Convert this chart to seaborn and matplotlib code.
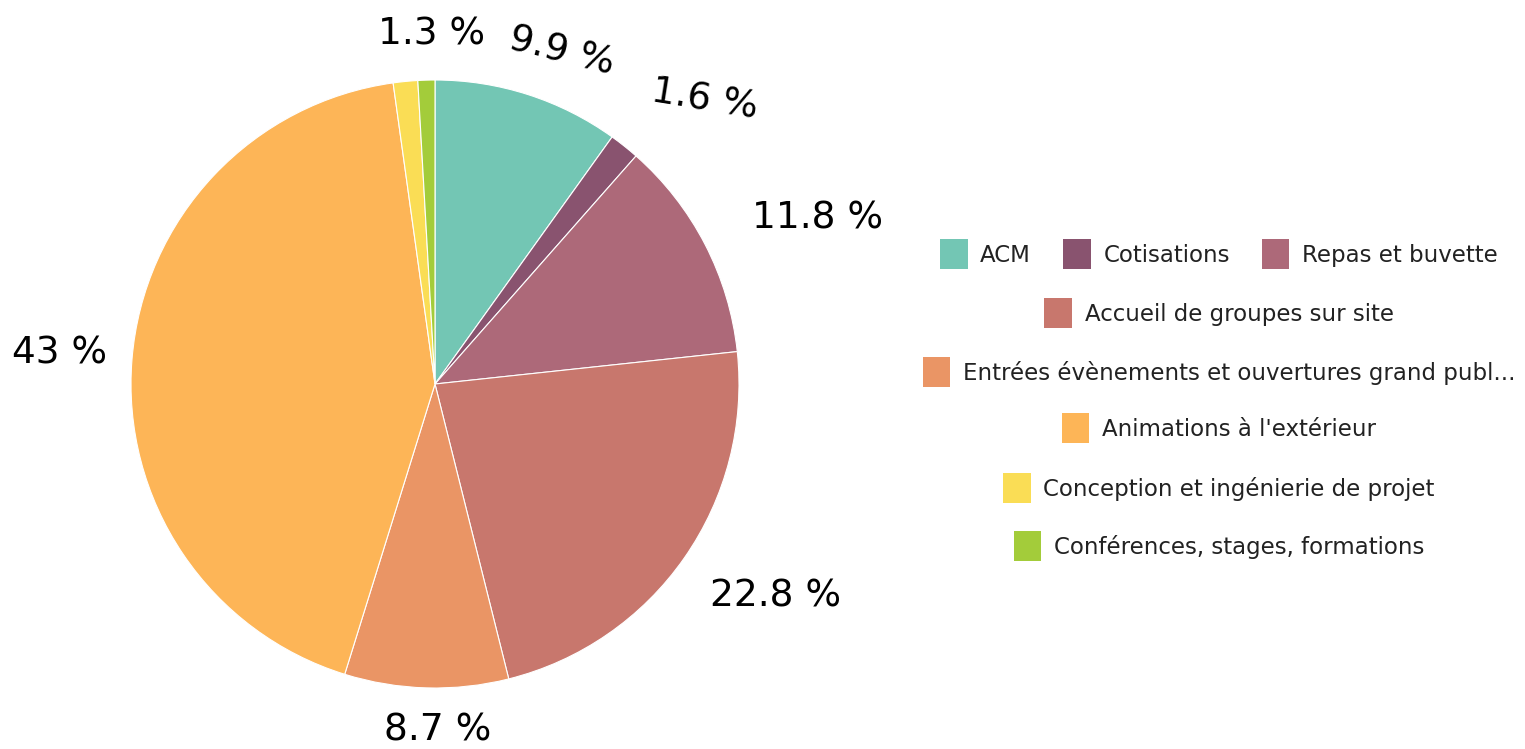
import numpy as np
import matplotlib
matplotlib.use("Agg")
import matplotlib.pyplot as plt
import matplotlib.patches as mpatches
import seaborn as sns

# === DATA ===
categories = [
    "ACM",
    "Cotisations",
    "Repas et buvette",
    "Accueil de groupes sur site",
    "Entrées évènements et ouvertures grand publ...",
    "Animations à l'extérieur",
    "Conception et ingénierie de projet",
    "Conférences, stages, formations",
]
values = [9.9, 1.6, 11.8, 22.8, 8.7, 43.0, 1.3, 0.9]
pct_labels = ["9.9 %", "1.6 %", "11.8 %", "22.8 %", "8.7 %", "43 %", "1.3 %", None]
colors = ["#73C6B4", "#89536F", "#AD6979", "#C8776D", "#EA9565",
          "#FDB557", "#FADD55", "#A3CC3A"]

# label placement (distance from centre in radii, rotation, angular nudge in degrees)
label_dist = [1.17, 1.29, 1.37, 1.32, 1.14, 1.24, 1.15, None]
label_rot = [-14, -9, 0, 0, 0, 0, 0, 0]
label_shift = [3, 5, 4, -3, -2, 0, 5, 0]

# === PLOTTING ===
sns.set_theme(style="white")
plt.rcParams["font.family"] = ["DejaVu Sans"]
palette = sns.color_palette(colors)

W, H = 1525, 749
fig = plt.figure(figsize=(W / 100, H / 100), dpi=100)
cx, cy, r = 435, 384, 304
ax = fig.add_axes([(cx - r) / W, (H - cy - r) / H, 2 * r / W, 2 * r / H])

wedges, _ = ax.pie(values, colors=palette, startangle=90, counterclock=False,
                   radius=1, wedgeprops=dict(edgecolor="white", linewidth=0.8))
ax.set_xlim(-1, 1)
ax.set_ylim(-1, 1)
ax.set_aspect("equal")
ax.axis("off")

for w, lab, d, rot, sh in zip(wedges, pct_labels, label_dist, label_rot, label_shift):
    if lab is None:
        continue
    ang = np.deg2rad((w.theta1 + w.theta2) / 2 - sh)
    ax.text(d * np.cos(ang), d * np.sin(ang), lab, ha="center", va="center",
            fontsize=27, color="black", rotation=rot, clip_on=False)

# === LEGEND (centred rows) ===
handles = [mpatches.Patch(facecolor=c, edgecolor="none") for c in palette]
rows = [[0, 1, 2], [3], [4], [5], [6], [7]]
row_y = [254, 313, 372, 428, 488, 546]
for idx, y in zip(rows, row_y):
    leg = fig.legend([handles[i] for i in idx], [categories[i] for i in idx],
                     loc="center", bbox_to_anchor=(1219 / W, 1 - y / H),
                     ncol=len(idx), frameon=False, fontsize=16.5,
                     labelcolor="#222222",
                     handlelength=1.2, handleheight=1.6, handletextpad=0.55,
                     columnspacing=1.4)

plt.savefig("out.png", dpi=100)
